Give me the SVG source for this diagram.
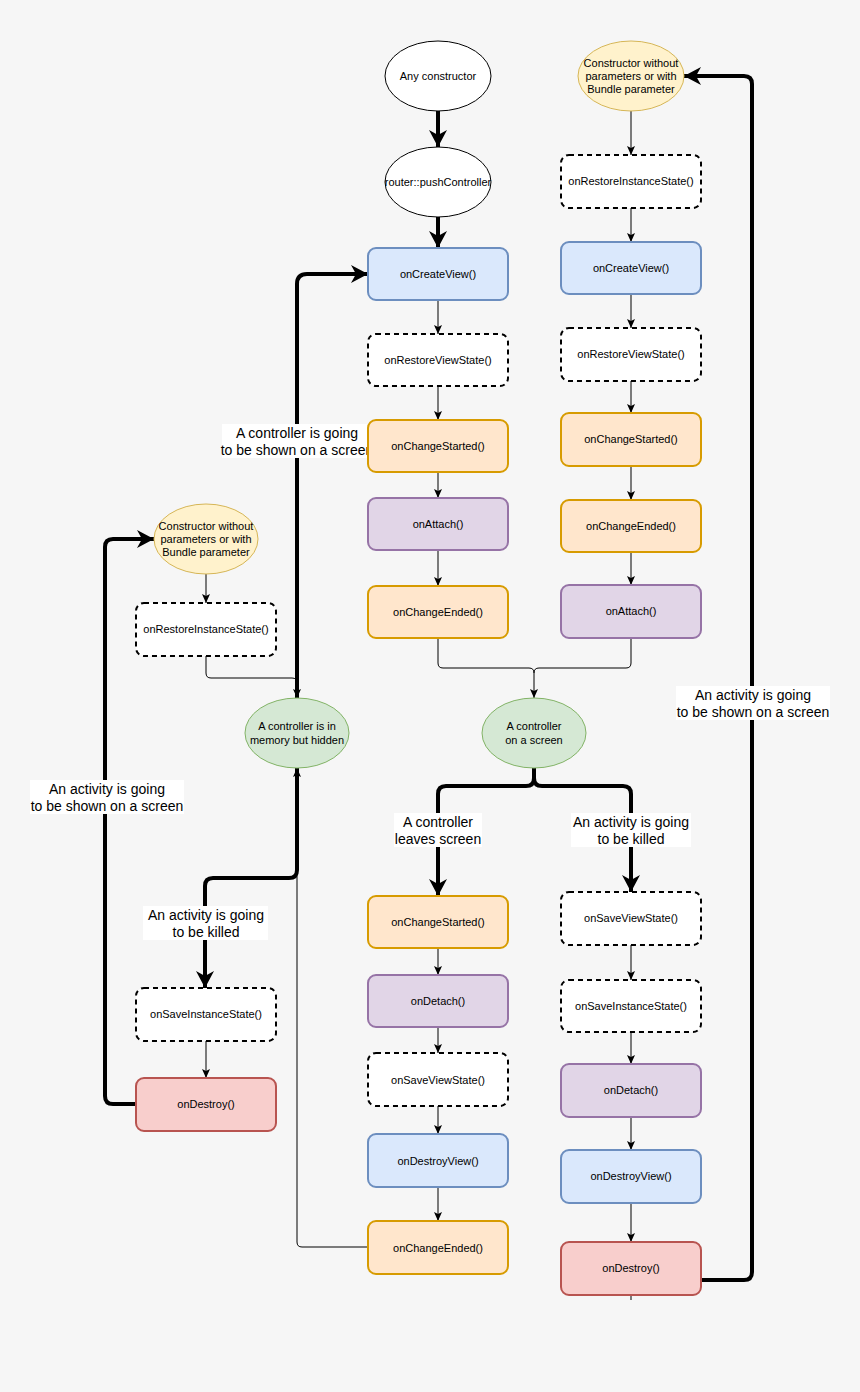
<svg xmlns="http://www.w3.org/2000/svg" width="860" height="1392" viewBox="0 0 860 1392">
<style>
text{font-family:"Liberation Sans",Arial,sans-serif;font-size:11px;fill:#000;text-anchor:middle;dominant-baseline:central}
.lbl{font-size:14px}
.b{stroke-width:2}
.dash{fill:#fff;stroke:#000;stroke-width:2;stroke-dasharray:5 4}
.blue{fill:#dae8fc;stroke:#6c8ebf}
.org{fill:#ffe6cc;stroke:#d79b00}
.pur{fill:#e1d5e7;stroke:#9673a6}
.grn{fill:#d5e8d4;stroke:#82b366}
.red{fill:#f8cecc;stroke:#b85450}
.yel{fill:#fff2cc;stroke:#d6b656}
.wht{fill:#fff;stroke:#000}
.thin{fill:none;stroke:#000;stroke-width:1;marker-end:url(#a)}
.thick{fill:none;stroke:#000;stroke-width:4;marker-end:url(#A)}
.lb{fill:#fff}
</style>
<defs>
<marker id="a" markerUnits="userSpaceOnUse" markerWidth="10" markerHeight="10" refX="9" refY="4" orient="auto"><path d="M0,0 L9,4 L0,8 L2,4 Z" fill="#000"/></marker>
<marker id="A" markerUnits="userSpaceOnUse" markerWidth="20" markerHeight="20" refX="17" refY="9" orient="auto"><path d="M0,0 L17,9 L0,18 L5,9 Z" fill="#000"/></marker>
</defs>
<rect width="860" height="1392" fill="#f6f6f6"/>
<g id="connectors">
<path class="thick" d="M438,111 V147"/>
<path class="thick" d="M438,217 V248"/>
<path class="thin" d="M438,300 V334"/>
<path class="thin" d="M438,386 V420"/>
<path class="thin" d="M438,472 V498"/>
<path class="thin" d="M438,550 V586"/>
<path class="thin" d="M631,111 V155"/>
<path class="thin" d="M631,208 V242"/>
<path class="thin" d="M631,294 V328"/>
<path class="thin" d="M631,381 V413"/>
<path class="thin" d="M631,466 V500"/>
<path class="thin" d="M631,552 V585"/>
<path fill="none" stroke="#000" d="M438,638 V663 Q438,668 443,668 H529 Q534,668 534,673"/>
<path class="thin" d="M631,638 V663 Q631,668 626,668 H539 Q534,668 534,673 V698"/>
<path class="thin" d="M206,574 V603"/>
<path class="thin" d="M206,656 V673 Q206,678 211,678 H292 Q297,678 297,683 V698"/>
<path class="thick" d="M297,698 V284 Q297,274 307,274 H368"/>
<path class="thick" d="M297,768 V870 Q297,878 289,878 H213 Q205,878 205,886 V988"/>
<path class="thin" d="M368,1247 H302 Q297,1247 297,1242 V768"/>
<path class="thin" d="M206,1041 V1078"/>
<path class="thick" d="M136,1104 H113 Q105,1104 105,1096 V547 Q105,539 113,539 H154"/>
<path class="thick" d="M534,768 V778 Q534,786 526,786 H446 Q438,786 438,794 V896"/>
<path class="thick" d="M534,778 Q534,786 542,786 H623 Q631,786 631,794 V892"/>
<path class="thin" d="M438,948 V975"/>
<path class="thin" d="M438,1027 V1053"/>
<path class="thin" d="M438,1106 V1134"/>
<path class="thin" d="M438,1187 V1221"/>
<path class="thin" d="M631,945 V980"/>
<path class="thin" d="M631,1032 V1064"/>
<path class="thin" d="M631,1117 V1150"/>
<path class="thin" d="M631,1203 V1242"/>
<path class="thick" d="M701,1280 H744 Q752,1280 752,1272 V84 Q752,76 744,76 H684"/>
<path stroke="#000" d="M631,1295 V1300"/>
</g>
<g id="labels">
<rect class="lb" x="222" y="424" width="151" height="34"/><text class="lbl" x="297" y="433">A controller is going</text><text class="lbl" x="297" y="450">to be shown on a screen</text>
<rect class="lb" x="143" y="906" width="125" height="34"/><text class="lbl" x="206" y="915">An activity is going</text><text class="lbl" x="206" y="932">to be killed</text>
<rect class="lb" x="30" y="780" width="154" height="34"/><text class="lbl" x="107" y="789">An activity is going</text><text class="lbl" x="107" y="806">to be shown on a screen</text>
<rect class="lb" x="394" y="813" width="88" height="34"/><text class="lbl" x="438" y="822">A controller</text><text class="lbl" x="438" y="839">leaves screen</text>
<rect class="lb" x="571" y="813" width="120" height="34"/><text class="lbl" x="631" y="822">An activity is going</text><text class="lbl" x="631" y="839">to be killed</text>
<rect class="lb" x="676" y="686" width="154" height="34"/><text class="lbl" x="753" y="695">An activity is going</text><text class="lbl" x="753" y="712">to be shown on a screen</text>
</g>
<g id="n1"><ellipse class="wht" cx="438" cy="76" rx="53" ry="35"/><text x="438" y="76">Any constructor</text></g>
<g id="n2"><ellipse class="wht" cx="438" cy="182" rx="53" ry="35"/><text x="438" y="182">router::pushController</text></g>
<g id="n3"><rect class="blue b" x="368" y="248" width="140" height="52" rx="8"/><text x="438" y="274">onCreateView()</text></g>
<g id="n4"><rect class="dash" x="368" y="334" width="140" height="52" rx="8"/><text x="438" y="360">onRestoreViewState()</text></g>
<g id="n5"><rect class="org b" x="368" y="420" width="140" height="52" rx="8"/><text x="438" y="446">onChangeStarted()</text></g>
<g id="n6"><rect class="pur b" x="368" y="498" width="140" height="52" rx="8"/><text x="438" y="524">onAttach()</text></g>
<g id="n7"><rect class="org b" x="368" y="586" width="140" height="52" rx="8"/><text x="438" y="612">onChangeEnded()</text></g>
<g id="r1"><ellipse class="yel" cx="631" cy="76" rx="53" ry="35"/><text x="631" y="63">Constructor without</text><text x="631" y="76">parameters or with</text><text x="631" y="89">Bundle parameter</text></g>
<g id="r2"><rect class="dash" x="561" y="155" width="140" height="53" rx="8"/><text x="631" y="181">onRestoreInstanceState()</text></g>
<g id="r3"><rect class="blue b" x="561" y="242" width="140" height="52" rx="8"/><text x="631" y="268">onCreateView()</text></g>
<g id="r4"><rect class="dash" x="561" y="328" width="140" height="53" rx="8"/><text x="631" y="354">onRestoreViewState()</text></g>
<g id="r5"><rect class="org b" x="561" y="413" width="140" height="53" rx="8"/><text x="631" y="439">onChangeStarted()</text></g>
<g id="r6"><rect class="org b" x="561" y="500" width="140" height="52" rx="8"/><text x="631" y="526">onChangeEnded()</text></g>
<g id="r7"><rect class="pur b" x="561" y="585" width="140" height="53" rx="8"/><text x="631" y="611">onAttach()</text></g>
<g id="l1"><ellipse class="yel" cx="206" cy="539" rx="52" ry="35"/><text x="206" y="526">Constructor without</text><text x="206" y="539">parameters or with</text><text x="206" y="552">Bundle parameter</text></g>
<g id="l2"><rect class="dash" x="136" y="603" width="140" height="53" rx="8"/><text x="206" y="629">onRestoreInstanceState()</text></g>
<g id="hidden"><ellipse class="grn" cx="297" cy="733" rx="52" ry="35"/><text x="297" y="726">A controller is in</text><text x="297" y="740">memory but hidden</text></g>
<g id="onscreen"><ellipse class="grn" cx="534" cy="733" rx="52" ry="35"/><text x="534" y="726">A controller</text><text x="534" y="740">on a screen</text></g>
<g id="l3"><rect class="dash" x="136" y="988" width="140" height="53" rx="8"/><text x="206" y="1014">onSaveInstanceState()</text></g>
<g id="l4"><rect class="red b" x="136" y="1078" width="140" height="53" rx="8"/><text x="206" y="1104">onDestroy()</text></g>
<g id="c1"><rect class="org b" x="368" y="896" width="140" height="52" rx="8"/><text x="438" y="922">onChangeStarted()</text></g>
<g id="c2"><rect class="pur b" x="368" y="975" width="140" height="52" rx="8"/><text x="438" y="1001">onDetach()</text></g>
<g id="c3"><rect class="dash" x="368" y="1053" width="140" height="53" rx="8"/><text x="438" y="1080">onSaveViewState()</text></g>
<g id="c4"><rect class="blue b" x="368" y="1134" width="140" height="53" rx="8"/><text x="438" y="1161">onDestroyView()</text></g>
<g id="c5"><rect class="org b" x="368" y="1221" width="140" height="53" rx="8"/><text x="438" y="1248">onChangeEnded()</text></g>
<g id="d1"><rect class="dash" x="561" y="892" width="140" height="53" rx="8"/><text x="631" y="918">onSaveViewState()</text></g>
<g id="d2"><rect class="dash" x="561" y="980" width="140" height="52" rx="8"/><text x="631" y="1006">onSaveInstanceState()</text></g>
<g id="d3"><rect class="pur b" x="561" y="1064" width="140" height="53" rx="8"/><text x="631" y="1090">onDetach()</text></g>
<g id="d4"><rect class="blue b" x="561" y="1150" width="140" height="53" rx="8"/><text x="631" y="1176">onDestroyView()</text></g>
<g id="d5"><rect class="red b" x="561" y="1242" width="140" height="53" rx="8"/><text x="631" y="1268">onDestroy()</text></g>
</svg>
